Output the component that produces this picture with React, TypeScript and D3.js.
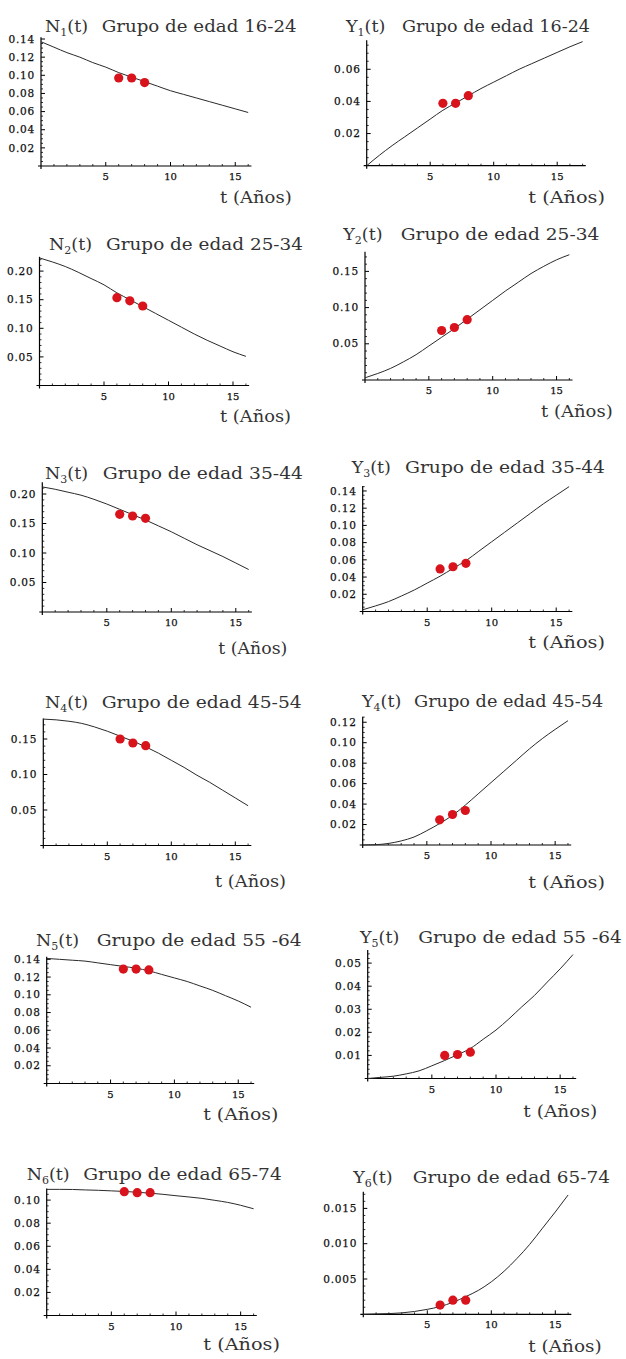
import React from "react";
import * as d3 from "d3";

// ---------- data ----------
const TIME = [0, 1, 2, 3, 4, 5, 6, 7, 8, 9, 10, 11, 12, 13, 14, 15, 16];
const TIME_Y1 = [0, 1, 2, 3, 4, 5, 6, 7, 8, 9, 10, 11, 12, 13, 14, 15, 16, 17];
const OBS_TIME = [6, 7, 8];
const X_TICKS = [5, 10, 15];

const N1_CURVE = [0.137, 0.131, 0.125, 0.12, 0.114, 0.109, 0.103, 0.098, 0.093, 0.088, 0.083, 0.079, 0.075, 0.071, 0.067, 0.063, 0.059];
const N1_OBS = [0.097, 0.097, 0.092];
const Y1_CURVE = [0, 0.0065, 0.0125, 0.018, 0.0235, 0.029, 0.0345, 0.039, 0.0435, 0.048, 0.052, 0.056, 0.06, 0.0635, 0.067, 0.0705, 0.074, 0.0772];
const Y1_OBS = [0.0388, 0.0388, 0.0436];

const N2_CURVE = [0.223, 0.216, 0.208, 0.198, 0.187, 0.176, 0.162, 0.15, 0.138, 0.126, 0.114, 0.102, 0.09, 0.079, 0.069, 0.059, 0.051];
const N2_OBS = [0.1535, 0.148, 0.139];
const Y2_CURVE = [0.003, 0.009, 0.016, 0.025, 0.035, 0.047, 0.059, 0.071, 0.084, 0.097, 0.11, 0.123, 0.135, 0.147, 0.157, 0.166, 0.173];
const Y2_OBS = [0.0684, 0.0725, 0.0833];

const N3_CURVE = [0.212, 0.208, 0.203, 0.198, 0.191, 0.183, 0.174, 0.165, 0.156, 0.146, 0.136, 0.125, 0.114, 0.104, 0.094, 0.083, 0.072];
const N3_OBS = [0.1655, 0.1627, 0.1588];
const Y3_CURVE = [0.002, 0.0065, 0.0115, 0.018, 0.025, 0.033, 0.041, 0.05, 0.059, 0.07, 0.081, 0.092, 0.103, 0.114, 0.125, 0.135, 0.145];
const Y3_OBS = [0.0494, 0.052, 0.056];

const N4_CURVE = [0.178, 0.177, 0.175, 0.172, 0.167, 0.161, 0.154, 0.147, 0.139, 0.13, 0.12, 0.11, 0.099, 0.089, 0.078, 0.067, 0.056];
const N4_OBS = [0.15, 0.1444, 0.1406];
const Y4_CURVE = [0, 0.0003, 0.0015, 0.004, 0.0078, 0.014, 0.021, 0.029, 0.039, 0.05, 0.061, 0.072, 0.083, 0.094, 0.104, 0.113, 0.1215];
const Y4_OBS = [0.0246, 0.0298, 0.0337];

const N5_CURVE = [0.141, 0.14, 0.139, 0.138, 0.136, 0.134, 0.132, 0.13, 0.127, 0.123, 0.119, 0.115, 0.11, 0.105, 0.099, 0.093, 0.086];
const N5_OBS = [0.129, 0.129, 0.128];
const Y5_CURVE = [0, 0.0005, 0.001, 0.002, 0.0033, 0.0055, 0.0078, 0.0103, 0.013, 0.017, 0.021, 0.0258, 0.031, 0.036, 0.0418, 0.0475, 0.0537];
const Y5_OBS = [0.01, 0.0104, 0.0114];

const N6_CURVE = [0.1093, 0.1093, 0.1092, 0.1088, 0.1085, 0.108, 0.1075, 0.1068, 0.106, 0.105, 0.1038, 0.1027, 0.1015, 0.0998, 0.098, 0.0955, 0.0925];
const N6_OBS = [0.1073, 0.1064, 0.1064];
const Y6_CURVE = [0, 0.00005, 0.0001, 0.0002, 0.0004, 0.0007, 0.0011, 0.0017, 0.0025, 0.0034, 0.0046, 0.0061, 0.0079, 0.0099, 0.0122, 0.0145, 0.0169];
const Y6_OBS = [0.0013, 0.002, 0.002];

const YT_014 = [0.02, 0.04, 0.06, 0.08, 0.1, 0.12, 0.14];
const YT_006 = [0.02, 0.04, 0.06];
const YT_020 = [0.05, 0.1, 0.15, 0.2];
const YT_015 = [0.05, 0.1, 0.15];
const YT_012 = [0.02, 0.04, 0.06, 0.08, 0.1, 0.12];
const YT_005 = [0.01, 0.02, 0.03, 0.04, 0.05];
const YT_010 = [0.02, 0.04, 0.06, 0.08, 0.1];
const YT_0015 = [0.005, 0.01, 0.015];

const GROUPS = ["16-24", "25-34", "35-44", "45-54", "55 -64", "65-74"];

const PANELS = [
  { sym: "N", sub: "1", group: GROUPS[0], time: TIME, curve: N1_CURVE, obs: N1_OBS, yTicks: YT_014, dec: 2, minor: 0.005, yMax: 0.142 },
  { sym: "Y", sub: "1", group: GROUPS[0], time: TIME_Y1, curve: Y1_CURVE, obs: Y1_OBS, yTicks: YT_006, dec: 2, minor: 0.005, yMax: 0.078 },
  { sym: "N", sub: "2", group: GROUPS[1], time: TIME, curve: N2_CURVE, obs: N2_OBS, yTicks: YT_020, dec: 2, minor: 0.01, yMax: 0.225 },
  { sym: "Y", sub: "2", group: GROUPS[1], time: TIME, curve: Y2_CURVE, obs: Y2_OBS, yTicks: YT_015, dec: 2, minor: 0.01, yMax: 0.177 },
  { sym: "N", sub: "3", group: GROUPS[2], time: TIME, curve: N3_CURVE, obs: N3_OBS, yTicks: YT_020, dec: 2, minor: 0.01, yMax: 0.22 },
  { sym: "Y", sub: "3", group: GROUPS[2], time: TIME, curve: Y3_CURVE, obs: Y3_OBS, yTicks: YT_014, dec: 2, minor: 0.005, yMax: 0.1458 },
  { sym: "N", sub: "4", group: GROUPS[3], time: TIME, curve: N4_CURVE, obs: N4_OBS, yTicks: YT_015, dec: 2, minor: 0.01, yMax: 0.179 },
  { sym: "Y", sub: "4", group: GROUPS[3], time: TIME, curve: Y4_CURVE, obs: Y4_OBS, yTicks: YT_012, dec: 2, minor: 0.005, yMax: 0.1254 },
  { sym: "N", sub: "5", group: GROUPS[4], time: TIME, curve: N5_CURVE, obs: N5_OBS, yTicks: YT_014, dec: 2, minor: 0.005, yMax: 0.143 },
  { sym: "Y", sub: "5", group: GROUPS[4], time: TIME, curve: Y5_CURVE, obs: Y5_OBS, yTicks: YT_005, dec: 2, minor: 0.002, yMax: 0.0557 },
  { sym: "N", sub: "6", group: GROUPS[5], time: TIME, curve: N6_CURVE, obs: N6_OBS, yTicks: YT_010, dec: 2, minor: 0.005, yMax: 0.11 },
  { sym: "Y", sub: "6", group: GROUPS[5], time: TIME, curve: Y6_CURVE, obs: Y6_OBS, yTicks: YT_0015, dec: 3, minor: 0.001, yMax: 0.01737 },
];

// ---------- layout (pixels) ----------
const LAYOUT = [
  { ox: 41, oy: 166, kx: 12.95, ky: 907, tx: 45, gx: 101.7, gr: 296.7, ty: 31.5, ax: 220, ar: 291.7, ay: 203 },
  { ox: 366.7, oy: 165.7, kx: 12.7, ky: 1607, tx: 346, gx: 402, gr: 590, ty: 31.5, ax: 528.3, ar: 605, ay: 203 },
  { ox: 39.5, oy: 385.5, kx: 12.9, ky: 572, tx: 49, gx: 106, gr: 303, ty: 250, ax: 220, ar: 291, ay: 421.7 },
  { ox: 365, oy: 380, kx: 12.77, ky: 724, tx: 343.3, gx: 400.7, gr: 599.3, ty: 240, ax: 541, ar: 612.7, ay: 416.7 },
  { ox: 42.3, oy: 612, kx: 12.9, ky: 590, tx: 45, gx: 102.7, gr: 303, ty: 479.3, ax: 218.3, ar: 287.3, ay: 654 },
  { ox: 362.7, oy: 611.5, kx: 12.9, ky: 861, tx: 351.7, gx: 405, gr: 605, ty: 473.3, ax: 528.3, ar: 605, ay: 648.3 },
  { ox: 43.3, oy: 845.5, kx: 12.8, ky: 710, tx: 45, gx: 101.7, gr: 301.7, ty: 708.3, ax: 215, ar: 286, ay: 886.7 },
  { ox: 362.7, oy: 845, kx: 12.83, ky: 1023, tx: 362, gx: 414, gr: 603.3, ty: 706.7, ax: 528.3, ar: 605, ay: 888.3 },
  { ox: 46.7, oy: 1083.5, kx: 12.77, ky: 887, tx: 36, gx: 96.7, gr: 301.7, ty: 946, ax: 203.3, ar: 278.3, ay: 1120 },
  { ox: 367.7, oy: 1078.5, kx: 12.83, ky: 2308, tx: 360, gx: 418.3, gr: 621.7, ty: 943.3, ax: 523.3, ar: 597.3, ay: 1116.7 },
  { ox: 46.7, oy: 1315.5, kx: 12.93, ky: 1154, tx: 26.7, gx: 83.3, gr: 281.7, ty: 1180, ax: 203.3, ar: 280, ay: 1350 },
  { ox: 363.3, oy: 1314.3, kx: 12.8, ky: 7060, tx: 353.3, gx: 412.7, gr: 610, ty: 1183.3, ax: 528.3, ar: 601.7, ay: 1351.7 },
];

const TITLE_FONT = "'DejaVu Serif', serif";
const TICK_FONT = "'DejaVu Serif', serif";

function Panel({ p, l }: { p: any; l: any }) {
  const tLast = p.time[p.time.length - 1];
  const x = d3.scaleLinear().domain([0, tLast]).range([l.ox, l.ox + tLast * l.kx]);
  const y = d3.scaleLinear().domain([0, p.yMax]).range([l.oy, l.oy - p.yMax * l.ky]);
  const line = d3
    .line<number>()
    .x((_, i) => x(p.time[i]))
    .y((d) => y(d))
    .curve(d3.curveMonotoneX);
  const xEnd = x(tLast + 0.25);
  const fmt = d3.format(`.${p.dec}f`);
  const xMinor = d3.range(1, tLast + 0.2, 1).filter((t) => t % 5 !== 0);
  const yMinor = d3.range(p.minor, p.yMax, p.minor).filter(
    (v) => !p.yTicks.some((t: number) => Math.abs(t - v) < p.minor / 10)
  );
  return (
    <g>
      {/* title */}
      <text x={l.tx} y={l.ty} fontFamily={TITLE_FONT} fontSize={17.5} fill="#333">
        {p.sym}
        <tspan fontSize={11} dy={4}>{p.sub}</tspan>
        <tspan dy={-4}>(t)</tspan>
      </text>
      <text
        x={l.gx}
        y={l.ty}
        fontFamily={TITLE_FONT}
        fontSize={17.5}
        fill="#333"
        textLength={l.gr - l.gx}
        lengthAdjust="spacingAndGlyphs"
        style={{ whiteSpace: "pre" }}
      >
        {"Grupo de edad " + p.group}
      </text>
      {/* axes */}
      <line x1={l.ox - 3} x2={xEnd} y1={l.oy} y2={l.oy} stroke="#000" strokeWidth={1.2} />
      <line x1={l.ox} x2={l.ox} y1={l.oy + 3} y2={y(p.yMax)} stroke="#000" strokeWidth={1.2} />
      {X_TICKS.map((t) => (
        <g key={"xt" + t}>
          <line x1={x(t)} x2={x(t)} y1={l.oy} y2={l.oy - 4} stroke="#000" strokeWidth={1} />
          <text
            x={x(t)}
            y={l.oy + 14}
            textAnchor="middle"
            fontFamily={TICK_FONT}
            fontSize={10}
            fill="#111"
            stroke="#111"
            strokeWidth={0.25}
          >
            {t}
          </text>
        </g>
      ))}
      {xMinor.map((t) => (
        <line key={"xm" + t} x1={x(t)} x2={x(t)} y1={l.oy} y2={l.oy - 2} stroke="#000" strokeWidth={0.8} />
      ))}
      {p.yTicks.map((v: number) => (
        <g key={"yt" + v}>
          <line x1={l.ox} x2={l.ox + 4} y1={y(v)} y2={y(v)} stroke="#000" strokeWidth={1} />
          <text
            x={l.ox - 6}
            y={y(v)}
            dy="0.35em"
            textAnchor="end"
            fontFamily={TICK_FONT}
            fontSize={10.5}
            letterSpacing={0.8}
            fill="#111"
            stroke="#111"
            strokeWidth={0.25}
          >
            {fmt(v)}
          </text>
        </g>
      ))}
      {yMinor.map((v: number, i: number) => (
        <line key={"ym" + i} x1={l.ox} x2={l.ox + 2} y1={y(v)} y2={y(v)} stroke="#000" strokeWidth={0.8} />
      ))}
      {/* curve */}
      <path d={line(p.curve) || ""} fill="none" stroke="#2a2a2a" strokeWidth={1} />
      {/* observed points */}
      {p.obs.map((v: number, i: number) => (
        <circle key={"o" + i} cx={x(OBS_TIME[i])} cy={y(v)} r={4.6} fill="#d8131c" />
      ))}
      {/* x label */}
      <text
        x={l.ax}
        y={l.ay}
        fontFamily={TITLE_FONT}
        fontSize={17.5}
        fill="#333"
        textLength={l.ar - l.ax}
        lengthAdjust="spacingAndGlyphs"
      >
        t (Años)
      </text>
    </g>
  );
}

export default function App() {
  return (
    <svg
      width={626}
      height={1359}
      viewBox="0 0 626 1359"
      style={{ position: "absolute", left: 0, top: 0, background: "#fff" }}
    >
      <rect x={0} y={0} width={626} height={1359} fill="#fff" />
      {PANELS.map((p, i) => (
        <Panel key={i} p={p} l={LAYOUT[i]} />
      ))}
    </svg>
  );
}
